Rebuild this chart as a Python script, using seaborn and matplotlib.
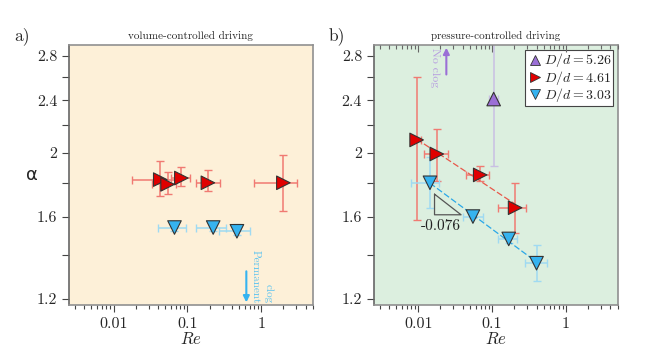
import numpy as np
import pandas as pd
import matplotlib
matplotlib.use("Agg")
import matplotlib.pyplot as plt
import matplotlib.ticker as mticker
from matplotlib.lines import Line2D
import seaborn as sns

# ---------------- data ----------------
# panel a: volume-controlled driving
a_red_re = [0.043, 0.054, 0.083, 0.19, 2.0]
a_red_re_lo = [0.018, 0.033, 0.06, 0.13, 0.8]
a_red_re_hi = [0.07, 0.07, 0.11, 0.28, 3.1]
a_red_alpha = [1.82, 1.79, 1.83, 1.80, 1.80]
a_red_alpha_lo = [1.72, 1.73, 1.78, 1.75, 1.63]
a_red_alpha_hi = [1.94, 1.87, 1.90, 1.88, 1.98]

a_blue_re = [0.067, 0.224, 0.47]
a_blue_re_lo = [0.04, 0.13, 0.27]
a_blue_re_hi = [0.095, 0.33, 0.70]
a_blue_alpha = [1.54, 1.54, 1.52]
a_blue_alpha_lo = [1.52, 1.52, 1.50]
a_blue_alpha_hi = [1.56, 1.56, 1.56]

# panel b: pressure-controlled driving
b_red_re = [0.0095, 0.0178, 0.069, 0.205]
b_red_re_lo = [0.0085, 0.012, 0.045, 0.12]
b_red_re_hi = [0.011, 0.025, 0.09, 0.29]
b_red_alpha = [2.09, 1.99, 1.85, 1.65]
b_red_alpha_lo = [1.58, 1.81, 1.81, 1.51]
b_red_alpha_hi = [2.60, 2.17, 1.91, 1.80]

b_blue_re = [0.0144, 0.055, 0.168, 0.40]
b_blue_re_lo = [0.008, 0.04, 0.12, 0.28]
b_blue_re_hi = [0.019, 0.075, 0.22, 0.55]
b_blue_alpha = [1.80, 1.60, 1.48, 1.36]
b_blue_alpha_lo = [1.65, 1.59, 1.46, 1.28]
b_blue_alpha_hi = [1.97, 1.62, 1.50, 1.45]

b_purple_re = [0.105]
b_purple_re_lo = [0.09]
b_purple_re_hi = [0.12]
b_purple_alpha = [2.41]
b_purple_alpha_lo = [1.91]
b_purple_alpha_hi = [3.3]

groups = ["$D/d = 5.26$", "$D/d = 4.61$", "$D/d = 3.03$"]
colors = {groups[0]: "#9b6fd6", groups[1]: "#e00000", groups[2]: "#35b3f0"}
err_colors = {groups[0]: "#c9bfe3", groups[1]: "#f07a72", groups[2]: "#9fdaf2"}
fit_colors = {groups[1]: "#e8584a", groups[2]: "#2aa8e8"}
markers = {groups[0]: "^", groups[1]: ">", groups[2]: "v"}

xticks = [0.01, 0.1, 1]
xticklabels = ["0.01", "0.1", "1"]
yticks = [1.2, 1.6, 2.0, 2.4, 2.8]
yticklabels = ["1.2", "1.6", "2", "2.4", "2.8"]
yminor = [1.4, 1.8, 2.2, 2.6]

# ---------------- style ----------------
sns.set_style("ticks")
plt.rcParams["font.family"] = ["serif"]
plt.rcParams["font.serif"] = ["cmr10", "DejaVu Serif"]
plt.rcParams["mathtext.fontset"] = "cm"
plt.rcParams["axes.unicode_minus"] = False
plt.rcParams["axes.formatter.use_mathtext"] = True

fig = plt.figure(figsize=(6.64, 3.54), dpi=100)
axa = fig.add_axes([0.104, 0.138, 0.367, 0.735])
axb = fig.add_axes([0.563, 0.138, 0.367, 0.735])
axa.set_facecolor("#fdf0d8")
axb.set_facecolor("#dcefdf")


def add_series(ax, g, re, re_lo, re_hi, al, al_lo, al_hi):
    re = np.array(re); al = np.array(al)
    xerr = [re - np.array(re_lo), np.array(re_hi) - re]
    yerr = [al - np.array(al_lo), np.array(al_hi) - al]
    ax.errorbar(re, al, xerr=xerr, yerr=yerr, fmt="none", ecolor=err_colors[g],
                elinewidth=1.1, capsize=3, capthick=1.0, zorder=2)
    return pd.DataFrame({"Re": re, "alpha": al, "group": g})


def draw_points(ax, df):
    sns.scatterplot(data=df, x="Re", y="alpha", hue="group", style="group",
                    palette=colors, markers=markers, s=95, edgecolor="#333333",
                    linewidth=0.8, ax=ax, legend=False, zorder=4)


# panel a
dfa = pd.concat([
    add_series(axa, groups[1], a_red_re, a_red_re_lo, a_red_re_hi, a_red_alpha, a_red_alpha_lo, a_red_alpha_hi),
    add_series(axa, groups[2], a_blue_re, a_blue_re_lo, a_blue_re_hi, a_blue_alpha, a_blue_alpha_lo, a_blue_alpha_hi),
])
draw_points(axa, dfa)

# panel b
dfb = pd.concat([
    add_series(axb, groups[0], b_purple_re, b_purple_re_lo, b_purple_re_hi, b_purple_alpha, b_purple_alpha_lo, b_purple_alpha_hi),
    add_series(axb, groups[1], b_red_re, b_red_re_lo, b_red_re_hi, b_red_alpha, b_red_alpha_lo, b_red_alpha_hi),
    add_series(axb, groups[2], b_blue_re, b_blue_re_lo, b_blue_re_hi, b_blue_alpha, b_blue_alpha_lo, b_blue_alpha_hi),
])

# power-law fits in panel b
for g, re, al in [(groups[1], b_red_re, b_red_alpha), (groups[2], b_blue_re, b_blue_alpha)]:
    p = np.polyfit(np.log(re), np.log(al), 1)
    xx = np.array([min(re), max(re)])
    axb.plot(xx, np.exp(np.polyval(p, np.log(xx))), ls=(0, (5, 2)),
             color=fit_colors[g], lw=0.9, zorder=3)

draw_points(axb, dfb)

# slope triangle
axb.plot([0.0166, 0.0166, 0.038, 0.0166], [1.73, 1.61, 1.61, 1.73],
         color="#555555", lw=0.9, zorder=3)
axb.text(0.0205, 1.585, "-0.076", ha="center", va="top", fontsize=11, color="#222222")

# arrows
axa.annotate("", xy=(0.63, 1.175), xytext=(0.63, 1.335),
             arrowprops=dict(arrowstyle="-|>", color="#35b3f0", lw=1.5,
                             mutation_scale=9), annotation_clip=False)
axa.text(0.73, 1.182, "Permanent", rotation=-90, ha="left", va="bottom",
         fontsize=8, color="#5cc3f0")
axa.text(1.07, 1.182, "clog", rotation=-90, ha="left", va="bottom",
         fontsize=8, color="#5cc3f0")
axb.annotate("", xy=(0.024, 2.91), xytext=(0.024, 2.6),
             arrowprops=dict(arrowstyle="-|>", color="#9b6fd6", lw=1.5,
                             mutation_scale=9), annotation_clip=False)
axb.text(0.0198, 2.88, "No clog", rotation=-90, ha="right", va="top",
         fontsize=8.5, color="#b69be0")

# legend
handles = [Line2D([], [], ls="none", marker=markers[g], markersize=7,
                  markerfacecolor=colors[g], markeredgecolor="#333333",
                  markeredgewidth=0.6) for g in groups]
leg = axb.legend(handles, groups, loc="upper right", fontsize=10,
                 frameon=True, fancybox=False, edgecolor="#444444",
                 handletextpad=0.1, handlelength=1.1, borderpad=0.12,
                 labelspacing=-0.05, borderaxespad=0.35)
leg.get_frame().set_linewidth(0.8)
leg.get_frame().set_facecolor("white")
leg.get_frame().set_alpha(1)

# axes formatting
for ax, title, tag, tx in [(axa, "volume-controlled driving", "a)", -0.225),
                           (axb, "pressure-controlled driving", "b)", -0.185)]:
    ax.set_xscale("log")
    ax.set_yscale("log")
    ax.set_xlim(0.0025, 5)
    ax.set_ylim(1.175, 2.91)
    ax.set_xticks(xticks)
    ax.set_xticklabels(xticklabels)
    ax.xaxis.set_minor_locator(mticker.LogLocator(base=10, subs=np.arange(2, 10)))
    ax.xaxis.set_minor_formatter(mticker.NullFormatter())
    ax.set_yticks(yticks)
    ax.set_yticklabels(yticklabels)
    ax.set_yticks(yminor, minor=True)
    ax.yaxis.set_minor_formatter(mticker.NullFormatter())
    ax.tick_params(axis="both", which="major", labelsize=11.5, length=5,
                   width=0.8, color="#444444", direction="out")
    ax.tick_params(axis="y", which="minor", length=5, width=0.8, color="#444444")
    ax.tick_params(axis="x", which="minor", length=3, width=0.8, color="#444444")
    ax.set_xlabel("$Re$", fontsize=12, labelpad=0)
    ax.set_ylabel("")
    for s in ax.spines.values():
        s.set_color("#909090")
        s.set_linewidth(1.2)
    ax.spines["left"].set_color("#666666")
    ax.set_title(title, fontsize=8, pad=4)
    ax.text(tx, 1.0, tag, transform=ax.transAxes, fontsize=12.5,
            ha="left", va="bottom")

# inward ticks on top of panel b
top = axb.twiny()
top.set_xscale("log")
top.set_xlim(axb.get_xlim())
top.set_xticks(xticks)
top.xaxis.set_minor_locator(mticker.LogLocator(base=10, subs=np.arange(2, 10)))
top.xaxis.set_minor_formatter(mticker.NullFormatter())
top.set_xticklabels([])
top.tick_params(axis="x", which="major", direction="in", length=5, width=0.8,
                color="#666666", labeltop=False)
top.tick_params(axis="x", which="minor", direction="in", length=3, width=0.8,
                color="#666666")
for s in top.spines.values():
    s.set_visible(False)

axa.text(-0.152, 0.5, "α", transform=axa.transAxes, fontsize=13,
         family=["DejaVu Sans"], ha="center", va="center")

fig.savefig("out.png", dpi=100)
